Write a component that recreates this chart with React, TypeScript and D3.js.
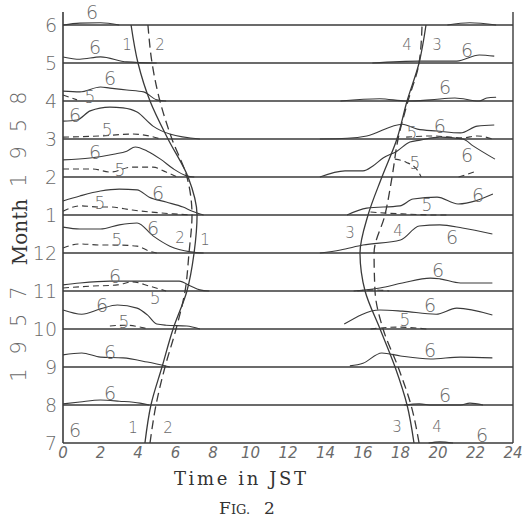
import React from "react";
import * as d3 from "d3";

// rows bottom→top: Jul 1957 ... Jun 1958
const months = ["7", "8", "9", "10", "11", "12", "1", "2", "3", "4", "5", "6"];
const hourTicks = [0, 2, 4, 6, 8, 10, 12, 14, 16, 18, 20, 22, 24];

// curve times (hours JST) for each month row
const sunrise1 = [4.37, 4.69, 5.28, 5.87, 6.61, 6.99, 7.15, 6.67, 5.6, 4.64, 4.0, 3.63];
const sunrise2 = [4.64, 4.96, 5.44, 6.03, 6.51, 6.72, 6.88, 6.61, 5.81, 5.17, 4.75, 4.53];
const sunset3 = [18.72, 18.35, 17.71, 16.91, 16.11, 15.84, 16.27, 17.01, 17.81, 18.35, 18.99, 19.36];
const sunset4 = [18.99, 18.56, 17.87, 17.07, 16.64, 16.59, 17.17, 17.55, 17.87, 18.4, 18.99, 19.15];

type Trace = { row: number; pts: [number, number][] };

// solid profiles ("6"): [hour, height above the month line, in rows]
const curve6: Trace[] = [
  { row: 11, pts: [[0, 0], [0.9, 0.05], [2.0, 0.06], [3.0, 0]] },
  { row: 11, pts: [[20.5, 0], [21.7, 0.06], [23.1, 0]] },
  { row: 10, pts: [[0, 0.16], [0.9, 0.1], [2.0, 0.16], [3.4, 0.03], [5.0, 0]] },
  { row: 10, pts: [[16.5, 0], [19.0, 0.05], [21.0, 0.05], [22.2, 0.21], [23.0, 0.18]] },
  { row: 9, pts: [[0, 0.26], [0.9, 0.24], [2.0, 0.37], [2.5, 0.34], [3.4, 0.29], [4.3, 0.24], [5.0, 0.03], [5.5, 0]] },
  { row: 9, pts: [[14.8, 0], [16.9, 0.06], [18.3, 0], [19.6, 0.03], [20.9, 0.08], [22.2, 0], [22.6, 0.08], [23.1, 0.1]] },
  { row: 8, pts: [[0, 0.47], [0.75, 0.5], [1.45, 0.74], [2.5, 0.84], [3.2, 0.82], [3.95, 0.71], [4.8, 0.34], [5.7, 0.13], [7.3, 0]] },
  { row: 8, pts: [[13.7, 0], [15.15, 0.02], [16.2, 0.08], [18.1, 0.39], [18.9, 0.26], [19.95, 0.21], [21.2, 0.16], [22.1, 0.34], [23.0, 0.37]] },
  { row: 7, pts: [[0, 0.45], [1.45, 0.5], [2.7, 0.6], [3.4, 0.68], [3.85, 0.79], [4.5, 0.68], [5.2, 0.47], [5.9, 0.21], [6.6, 0.03], [7.0, 0]] },
  { row: 7, pts: [[13.7, 0], [15.04, 0.16], [16.0, 0.16], [16.53, 0.29], [17.07, 0.5], [17.81, 0.68], [18.5, 0.92], [19.04, 0.97], [20.1, 1.05], [21.33, 1.0], [21.87, 0.82], [23.04, 0.47]] },
  { row: 6, pts: [[0, 0.37], [0.9, 0.5], [2.0, 0.63], [3.0, 0.68], [3.95, 0.66], [4.6, 0.47], [5.5, 0.34], [6.4, 0.21], [6.9, 0.1], [7.5, 0]] },
  { row: 6, pts: [[15.15, 0], [16.2, 0.18], [17.97, 0.24], [18.67, 0.42], [19.95, 0.47], [21.07, 0.29], [22.93, 0.55]] },
  { row: 5, pts: [[0, 0.68], [0.9, 0.63], [2.0, 0.63], [3.0, 0.74], [3.95, 0.79], [4.8, 0.45], [5.7, 0.18], [6.8, 0.03], [7.5, 0]] },
  { row: 5, pts: [[13.7, 0], [14.8, 0.08], [16.0, 0.21], [18.0, 0.34], [19.0, 0.71], [20.1, 0.74], [21.3, 0.66], [22.9, 0.5]] },
  { row: 4, pts: [[0, 0.16], [0.9, 0.21], [2.5, 0.26], [4.6, 0.26], [6.2, 0.26], [6.8, 0.13], [7.3, 0.03], [7.8, 0]] },
  { row: 4, pts: [[15.5, 0], [16.9, 0.08], [18.1, 0.21], [19.6, 0.34], [20.1, 0.32], [21.2, 0.21], [22.9, 0.21]] },
  { row: 3, pts: [[0, 0.5], [1.0, 0.39], [2.0, 0.53], [2.9, 0.63], [3.95, 0.55], [4.5, 0.37], [5.0, 0.13], [5.5, 0.1], [6.6, 0.08], [7.3, 0]] },
  { row: 3, pts: [[15.0, 0.13], [16.9, 0.5], [18.1, 0.47], [19.9, 0.39], [21.0, 0.55], [22.9, 0.37]] },
  { row: 2, pts: [[0, 0.32], [1.0, 0.37], [2.0, 0.26], [3.2, 0.24], [4.5, 0.13], [5.7, 0]] },
  { row: 2, pts: [[15.3, 0.03], [16.0, 0.1], [17.0, 0.37], [18.0, 0.29], [19.6, 0.21], [21.2, 0.26], [22.9, 0.24]] },
  { row: 1, pts: [[0, 0.03], [0.9, 0.08], [2.0, 0.13], [3.0, 0.1], [4.1, 0.05], [4.6, 0]] },
  { row: 1, pts: [[18.2, 0], [19.0, 0.03], [19.7, 0], [21.2, 0], [21.7, 0.05], [22.4, 0]] },
  { row: 0, pts: [[19.5, 0], [20.1, 0.03], [20.8, 0]] },
];

// dashed profiles ("5")
const curve5: Trace[] = [
  { row: 9, pts: [[0, 0.16], [0.75, 0.03]] },
  { row: 8, pts: [[0, 0.05], [2.0, 0.08], [3.7, 0.13], [4.6, 0.08], [5.2, 0]] },
  { row: 8, pts: [[18.3, 0.05], [19.7, 0.08], [21.3, 0.03], [22.1, 0.08], [22.9, 0]] },
  { row: 7, pts: [[0, 0.21], [1.6, 0.21], [2.5, 0.13], [3.7, 0.26], [4.8, 0.26], [5.5, 0.13], [6.1, 0]] },
  { row: 7, pts: [[17.7, 0.47], [18.3, 0.39], [18.9, 0.18], [19.1, 0]] },
  { row: 7, pts: [[21.1, 0], [22.1, 0.16]] },
  { row: 6, pts: [[0, 0.1], [0.9, 0.24], [2.0, 0.21], [2.5, 0.21], [3.7, 0.13], [5.9, 0.03], [6.9, 0]] },
  { row: 6, pts: [[16.4, 0.08], [17.2, 0.05], [18.1, 0.03], [19.95, 0], [20.5, 0]] },
  { row: 5, pts: [[0, 0.13], [0.9, 0.24], [2.0, 0.21], [2.9, 0.21], [3.95, 0.18], [4.6, 0.05], [5.0, 0]] },
  { row: 4, pts: [[0, 0.08], [1.6, 0.13], [2.9, 0.16], [3.7, 0.24], [4.6, 0.13], [5.5, 0]] },
  { row: 4, pts: [[15.7, 0], [16.6, 0.03], [17.4, 0]] },
  { row: 3, pts: [[2.5, 0.08], [3.4, 0.1], [4.3, 0.03], [4.6, 0]] },
  { row: 3, pts: [[16.4, 0], [17.8, 0.05], [19.4, 0]] },
];

// hand-written curve labels: [text, hour, row]
const curveLabels: [string, number, number][] = [
  ["6", 1.55, 11.34], ["1", 3.41, 10.47], ["2", 5.17, 10.47], ["6", 1.71, 10.42],
  ["4", 18.35, 10.47], ["3", 19.95, 10.47], ["6", 21.55, 10.34],
  ["6", 2.51, 9.61], ["5", 1.44, 9.11], ["6", 20.37, 9.37],
  ["6", 0.64, 8.63], ["5", 2.35, 8.24], ["6", 20.1, 8.34], ["5", 18.61, 8.16],
  ["6", 1.71, 7.66], ["5", 3.04, 7.18], ["6", 21.55, 7.58], ["5", 18.77, 7.37],
  ["6", 22.13, 6.53], ["5", 19.41, 6.26], ["5", 1.97, 6.32], ["6", 5.07, 6.58],
  ["6", 4.8, 5.66], ["5", 2.88, 5.34], ["2", 6.24, 5.39], ["1", 7.57, 5.34],
  ["3", 15.31, 5.53], ["4", 17.87, 5.58], ["6", 20.75, 5.42],
  ["6", 2.77, 4.39], ["5", 4.91, 3.82], ["6", 20.0, 4.55],
  ["6", 2.08, 3.63], ["5", 3.25, 3.18], ["6", 19.57, 3.63], ["5", 18.24, 3.24],
  ["6", 2.51, 2.39], ["6", 19.57, 2.45],
  ["6", 2.51, 1.32], ["6", 20.37, 1.26],
  ["6", 0.64, 0.34], ["1", 3.73, 0.39], ["2", 5.6, 0.39],
  ["3", 17.81, 0.42], ["4", 19.95, 0.42], ["6", 22.35, 0.21],
];

const yearLabels: [string, number][] = [["1958", 8.18], ["1957", 3.05]];

const ink = "#3a3a3a";
const pencil = "#6a6a6a";
const hand = "'DejaVu Sans', sans-serif";
const serif = "'DejaVu Serif', 'Liberation Serif', serif";

export default function App() {
  const width = 522;
  const height = 522;
  const x = d3.scaleLinear().domain([0, 24]).range([63, 513]);
  const y = d3.scaleLinear().domain([0, 11]).range([443, 25]);
  const top = 12;

  const timeLine = d3
    .line<number>()
    .x((d) => x(d))
    .y((d, i) => y(i))
    .curve(d3.curveMonotoneY);

  const profile = (row: number) =>
    d3
      .line<[number, number]>()
      .x((d) => x(d[0]))
      .y((d) => y(row + d[1]))
      .curve(d3.curveMonotoneX);

  return (
    <svg
      width={width}
      height={height}
      style={{ position: "absolute", left: 0, top: 0, background: "#fff" }}
    >
      {/* frame */}
      <line x1={x(0)} x2={x(0)} y1={top} y2={y(0)} stroke={ink} strokeWidth={1.6} />
      <line x1={x(24)} x2={x(24)} y1={top} y2={y(0)} stroke={ink} strokeWidth={1.4} />
      {months.map((m, i) => (
        <line key={"h" + i} x1={x(0)} x2={x(24)} y1={y(i)} y2={y(i)} stroke={ink} strokeWidth={1.6} />
      ))}

      {/* month tick labels */}
      {months.map((m, i) => (
        <text
          key={"m" + i}
          x={57}
          y={y(i)}
          textAnchor="end"
          dominantBaseline="central"
          fontFamily={hand}
          fontWeight={200}
          fontSize={19}
          fill={pencil}
        >
          {m}
        </text>
      ))}

      {/* hour tick labels */}
      {hourTicks.map((h) => (
        <text
          key={"t" + h}
          x={x(h)}
          y={458}
          textAnchor="middle"
          fontFamily={hand}
          fontWeight={200}
          fontStyle="italic"
          fontSize={15}
          fill={pencil}
        >
          {h}
        </text>
      ))}

      {/* profiles */}
      {curve6.map((c, i) => (
        <path key={"s" + i} d={profile(c.row)(c.pts) || ""} fill="none" stroke={ink} strokeWidth={1.1} />
      ))}
      {curve5.map((c, i) => (
        <path
          key={"d" + i}
          d={profile(c.row)(c.pts) || ""}
          fill="none"
          stroke={ink}
          strokeWidth={1.1}
          strokeDasharray="6 4"
        />
      ))}

      {/* sunrise / sunset curves */}
      <path d={timeLine(sunrise1) || ""} fill="none" stroke={ink} strokeWidth={1.3} />
      <path d={timeLine(sunrise2) || ""} fill="none" stroke={ink} strokeWidth={1.3} strokeDasharray="9 5" />
      <path d={timeLine(sunset3) || ""} fill="none" stroke={ink} strokeWidth={1.3} />
      <path d={timeLine(sunset4) || ""} fill="none" stroke={ink} strokeWidth={1.3} strokeDasharray="9 5" />

      {/* curve labels */}
      {curveLabels.map(([t, h, r], i) => (
        <text
          key={"l" + i}
          x={x(h)}
          y={y(r)}
          textAnchor="middle"
          dominantBaseline="central"
          fontFamily={hand}
          fontWeight={200}
          fontSize={t === "6" ? 19 : t === "5" ? 17 : 15}
          fill={pencil}
        >
          {t}
        </text>
      ))}

      {/* year labels */}
      {yearLabels.map(([t, r]) => (
        <text
          key={t}
          transform={`translate(19,${y(r)}) rotate(-90)`}
          textAnchor="middle"
          dominantBaseline="central"
          fontFamily={hand}
          fontWeight={200}
          fontSize={21}
          letterSpacing={14}
          fill={pencil}
        >
          {t}
        </text>
      ))}
      <text
        transform={`translate(20,232) rotate(-90)`}
        textAnchor="middle"
        dominantBaseline="central"
        fontFamily={serif}
        fontSize={20}
        fill="#333"
      >
        Month
      </text>

      {/* axis title */}
      <text x={240} y={485} textAnchor="middle" fontFamily={serif} fontSize={18} fill="#333" textLength={132} lengthAdjust="spacing">
        Time in JST
      </text>
      <text x={247} y={514} textAnchor="middle" fontFamily={serif} fontSize={17} fill="#333">
        F<tspan fontSize={13}>IG.</tspan>
        <tspan dx={14}>2</tspan>
      </text>
    </svg>
  );
}
